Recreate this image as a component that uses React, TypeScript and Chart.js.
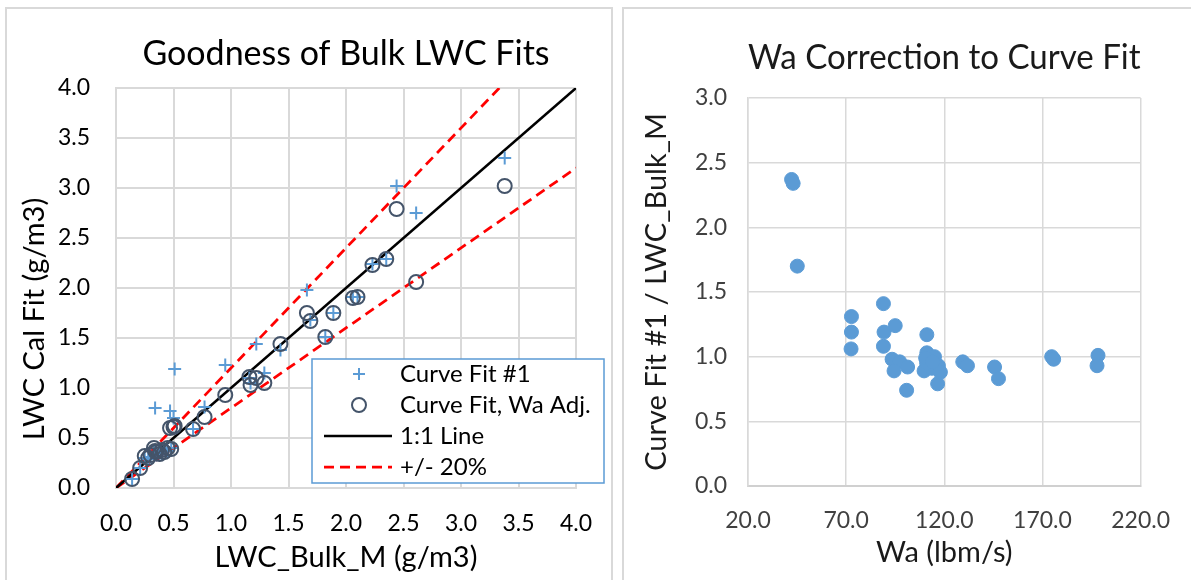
import React, { useEffect, useRef } from "react";
import { Chart, registerables } from "chart.js";
Chart.register(...registerables);

// ---------- Left chart data ----------
const lwcBulk = [0.14, 0.21, 0.25, 0.28, 0.30, 0.33, 0.35, 0.38, 0.40, 0.42, 0.45, 0.48, 0.34, 0.47, 0.51, 0.50, 0.67, 0.77, 0.95, 1.16, 1.17, 1.22, 1.29, 1.43, 1.66, 1.69, 1.89, 1.82, 2.06, 2.10, 2.23, 2.35, 2.44, 2.61, 3.38];
const curveFit1 = [0.09, 0.20, 0.30, 0.29, 0.31, 0.36, 0.33, 0.35, 0.34, 0.38, 0.37, 0.40, 0.80, 0.77, 1.19, 0.70, 0.59, 0.81, 1.23, 1.10, 1.05, 1.44, 1.15, 1.38, 1.98, 1.68, 1.75, 1.51, 1.91, 1.91, 2.24, 2.29, 3.02, 2.75, 3.30];
const curveFitWaAdj = [0.09, 0.20, 0.32, 0.30, 0.33, 0.40, 0.36, 0.34, 0.38, 0.36, 0.40, 0.39, 0.37, 0.60, 0.62, 0.61, 0.59, 0.71, 0.93, 1.11, 1.03, 1.10, 1.05, 1.44, 1.75, 1.67, 1.75, 1.51, 1.90, 1.91, 2.23, 2.29, 2.79, 2.06, 3.02];
const refLineX = [0, 4];
const bandFactors = [1.2, 0.8];
const leftSeriesLabels = ["Curve Fit #1", "Curve Fit, Wa Adj.", "1:1 Line", "+/- 20%"];
const leftTitle = "Goodness of Bulk LWC Fits";
const leftXTitle = "LWC_Bulk_M (g/m3)";
const leftYTitle = "LWC Cal Fit (g/m3)";

// ---------- Right chart data ----------
const wa = [42.2, 43.0, 45.1, 72.7, 72.7, 72.5, 89.0, 89.3, 89.0, 95.0, 93.4, 97.3, 94.4, 101.3, 100.8, 111.1, 111.1, 115.0, 117.0, 109.7, 113.6, 116.6, 111.0, 118.0, 110.5, 114.0, 129.4, 131.8, 145.6, 147.6, 174.7, 175.7, 198.3, 197.8];
const ratio = [2.37, 2.34, 1.70, 1.31, 1.19, 1.06, 1.41, 1.19, 1.08, 1.24, 0.98, 0.96, 0.89, 0.92, 0.74, 1.17, 1.03, 1.00, 0.93, 0.89, 0.91, 0.79, 0.95, 0.88, 0.99, 0.96, 0.96, 0.93, 0.92, 0.83, 1.00, 0.98, 1.01, 0.93];
const waTicks = [20, 70, 120, 170, 220];
const rightTitle = "Wa Correction to Curve Fit";
const rightXTitle = "Wa (lbm/s)";
const rightYTitle = "Curve Fit #1 / LWC_Bulk_M";

const FONT = "Lato, 'Open Sans', sans-serif";
const BLUE = "#5B9BD5";
const SLATE = "#44546A";
const GRID = "#d9d9d9";

const leftOverlay = {
  id: "leftOverlay",
  afterDraw(chart: any) {
    const ctx = chart.ctx as CanvasRenderingContext2D;
    ctx.save();
    // rotated y-axis title
    ctx.translate(35, 319);
    ctx.rotate(-Math.PI / 2);
    ctx.font = `29px ${FONT}`;
    ctx.fillStyle = "#000";
    ctx.textAlign = "center";
    ctx.textBaseline = "middle";
    ctx.fillText(leftYTitle, 0, 0);
    ctx.restore();

    // legend box
    const x0 = 312, y0 = 359, w = 292, h = 124;
    ctx.save();
    ctx.fillStyle = "#fff";
    ctx.fillRect(x0, y0, w, h);
    ctx.strokeStyle = BLUE;
    ctx.lineWidth = 1.5;
    ctx.strokeRect(x0, y0, w, h);
    const rows = [374, 405, 436, 467];
    const mx = 359;
    ctx.font = `24px ${FONT}`;
    ctx.fillStyle = "#000";
    ctx.textAlign = "left";
    ctx.textBaseline = "middle";
    rows.forEach((ry, i) => ctx.fillText(leftSeriesLabels[i], 400, ry));
    // plus
    ctx.strokeStyle = BLUE;
    ctx.lineWidth = 2;
    ctx.beginPath();
    ctx.moveTo(mx - 6, rows[0]); ctx.lineTo(mx + 6, rows[0]);
    ctx.moveTo(mx, rows[0] - 6); ctx.lineTo(mx, rows[0] + 6);
    ctx.stroke();
    // circle
    ctx.strokeStyle = SLATE;
    ctx.beginPath();
    ctx.arc(mx, rows[1], 7, 0, Math.PI * 2);
    ctx.stroke();
    // solid line
    ctx.strokeStyle = "#000";
    ctx.lineWidth = 2.5;
    ctx.beginPath();
    ctx.moveTo(324, rows[2]); ctx.lineTo(392, rows[2]);
    ctx.stroke();
    // dashed
    ctx.strokeStyle = "#ff0000";
    ctx.lineWidth = 2.75;
    ctx.setLineDash([10, 6]);
    ctx.beginPath();
    ctx.moveTo(324, rows[3]); ctx.lineTo(392, rows[3]);
    ctx.stroke();
    ctx.restore();
  },
};

function leftConfig(): any {
  const pts = (ys: number[]) => lwcBulk.map((x, i) => ({ x, y: ys[i] }));
  return {
    type: "scatter",
    data: {
      datasets: [
        {
          label: leftSeriesLabels[0],
          data: pts(curveFit1),
          pointStyle: "cross",
          pointRadius: 6.5,
          borderColor: BLUE,
          backgroundColor: BLUE,
          borderWidth: 2,
          order: 1,
        },
        {
          label: leftSeriesLabels[1],
          data: pts(curveFitWaAdj),
          pointStyle: "circle",
          pointRadius: 7,
          borderColor: SLATE,
          backgroundColor: "rgba(0,0,0,0)",
          borderWidth: 2,
          order: 0,
        },
        {
          label: leftSeriesLabels[2],
          data: refLineX.map((x) => ({ x, y: x })),
          showLine: true,
          pointRadius: 0,
          borderColor: "#000",
          borderWidth: 2.5,
          order: 3,
        },
        ...bandFactors.map((f) => ({
          label: leftSeriesLabels[3],
          data: refLineX.map((x) => ({ x, y: x * f })),
          showLine: true,
          pointRadius: 0,
          borderColor: "#ff0000",
          borderWidth: 2.75,
          borderDash: [10, 6],
          order: 4,
        })),
      ],
    },
    options: {
      animation: false,
      responsive: false,
      devicePixelRatio: 1,
      layout: { padding: { left: 0, right: 42, top: 0, bottom: 0 } },
      plugins: {
        legend: { display: false },
        tooltip: { enabled: false },
        title: {
          display: true,
          text: leftTitle,
          fullSize: false,
          color: "#000",
          font: { family: FONT, size: 34, weight: "normal", lineHeight: 1.2 },
          padding: { top: 33.6, bottom: 13.6 },
        },
      },
      scales: {
        x: {
          type: "linear",
          min: 0,
          max: 4,
          afterFit: (s: any) => { s.height = 92; },
          ticks: {
            stepSize: 0.5,
            padding: 22,
            color: "#000",
            font: { family: FONT, size: 23 },
            callback: (v: number) => v.toFixed(1),
          },
          grid: { color: GRID, lineWidth: 2, drawTicks: false },
          border: { color: GRID, width: 2 },
          title: {
            display: true,
            text: leftXTitle,
            color: "#000",
            font: { family: FONT, size: 29, lineHeight: 1.2 },
            padding: { top: 0, bottom: 4.6 },
          },
        },
        y: {
          type: "linear",
          min: 0,
          max: 4,
          afterFit: (s: any) => { s.width = 116; },
          ticks: {
            stepSize: 0.5,
            padding: 26,
            color: "#000",
            font: { family: FONT, size: 23 },
            callback: (v: number) => v.toFixed(1),
          },
          grid: { color: GRID, lineWidth: 2, drawTicks: false },
          border: { color: GRID, width: 2 },
        },
      },
    },
    plugins: [leftOverlay],
  };
}

function rightConfig(): any {
  return {
    type: "scatter",
    data: {
      datasets: [
        {
          label: rightYTitle,
          data: wa.map((x, i) => ({ x, y: ratio[i] })),
          pointStyle: "circle",
          pointRadius: 7,
          backgroundColor: BLUE,
          borderColor: BLUE,
          borderWidth: 1,
        },
      ],
    },
    options: {
      animation: false,
      responsive: false,
      devicePixelRatio: 1,
      layout: { padding: { left: 0, right: 36, top: 0, bottom: 0 } },
      plugins: {
        legend: { display: false },
        tooltip: { enabled: false },
        title: {
          display: true,
          text: rightTitle,
          fullSize: false,
          color: "#1a1a1a",
          font: { family: FONT, size: 34, weight: "normal", lineHeight: 1.2 },
          padding: { top: 37.6, bottom: 19.6 },
        },
      },
      scales: {
        x: {
          type: "linear",
          min: 20,
          max: 220,
          afterBuildTicks: (s: any) => { s.ticks = waTicks.map((v) => ({ value: v })); },
          afterFit: (s: any) => { s.height = 94; },
          ticks: {
            padding: 21,
            color: "#404040",
            font: { family: FONT, size: 23 },
            callback: (v: number) => v.toFixed(1),
          },
          grid: { color: GRID, lineWidth: 1.5, drawTicks: false },
          border: { color: "#d0d0d0", width: 2 },
          title: {
            display: true,
            text: rightXTitle,
            color: "#1a1a1a",
            font: { family: FONT, size: 29, lineHeight: 1.2 },
            padding: { top: 0, bottom: 9.6 },
          },
        },
        y: {
          type: "linear",
          min: 0,
          max: 3,
          afterFit: (s: any) => { s.width = 130; },
          ticks: {
            stepSize: 0.5,
            padding: 21,
            color: "#404040",
            font: { family: FONT, size: 23 },
            callback: (v: number) => v.toFixed(1),
          },
          grid: { color: GRID, lineWidth: 1.5, drawTicks: false },
          border: { color: GRID, width: 1.5 },
          title: {
            display: true,
            text: rightYTitle,
            color: "#1a1a1a",
            font: { family: FONT, size: 29, lineHeight: 1.2 },
            padding: { top: 21.6, bottom: 0 },
          },
        },
      },
    },
  };
}

export default function App() {
  const leftRef = useRef<HTMLCanvasElement>(null);
  const rightRef = useRef<HTMLCanvasElement>(null);
  useEffect(() => {
    const c1 = new Chart(leftRef.current as HTMLCanvasElement, leftConfig());
    const c2 = new Chart(rightRef.current as HTMLCanvasElement, rightConfig());
    return () => {
      c1.destroy();
      c2.destroy();
    };
  }, []);
  return (
    <div style={{ position: "fixed", left: 0, top: 0, width: 1191, height: 580, background: "#fff", overflow: "hidden" }}>
      <div style={{ position: "absolute", left: 5, top: 7, width: 608, height: 620, border: "2px solid #d9d9d9", boxSizing: "border-box" }} />
      <div style={{ position: "absolute", left: 622, top: 7, width: 620, height: 620, border: "2px solid #d9d9d9", boxSizing: "border-box" }} />
      <canvas ref={leftRef} width={618} height={580} style={{ position: "absolute", left: 0, top: 0, width: 618, height: 580 }} />
      <canvas ref={rightRef} width={573} height={580} style={{ position: "absolute", left: 618, top: 0, width: 573, height: 580 }} />
    </div>
  );
}
